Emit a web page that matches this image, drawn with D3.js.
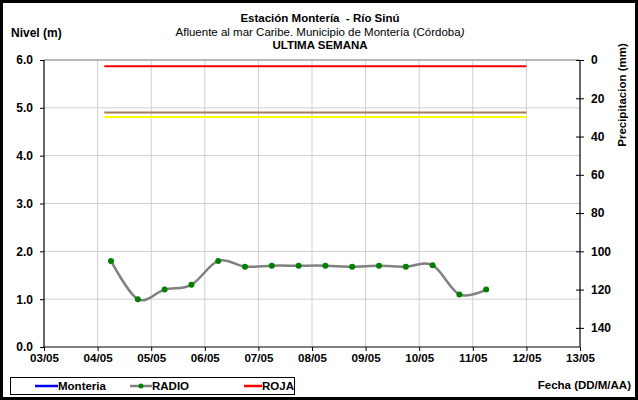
<!DOCTYPE html>
<html><head><meta charset="utf-8">
<script src="https://cdn.jsdelivr.net/npm/d3@7"></script>
<style>body{margin:0;background:#fff}svg{display:block;font-family:"Liberation Sans",Arial,sans-serif}</style>
</head><body><svg id="c" width="638" height="400"></svg>
<script>
// ---- data ----
const dayTicks = [3,4,5,6,7,8,9,10,11,12,13];
const tickLabels = ["03/05","04/05","05/05","06/05","07/05","08/05","09/05","10/05","11/05","12/05","13/05"];
const radioTimes = [4.25,4.75,5.25,5.75,6.25,6.75,7.25,7.75,8.25,8.75,9.25,9.75,10.25,10.75,11.25];
const radioLevels = [1.80,1.00,1.20,1.30,1.80,1.68,1.70,1.70,1.70,1.68,1.70,1.68,1.71,1.10,1.20];
const refStart = 4.125, refEnd = 12.0;
const rojaLevel = 5.87;
const brownLevel = 4.90;
const yellowLevel = 4.81;
const levelTicks = [0,1,2,3,4,5,6];
const precipTicks = [0,20,40,60,80,100,120,140];

const svg = d3.select("#c");
const L=44,R=580,T=60,B=347;
const x = d3.scaleLinear().domain([3,13]).range([L,R]);
const y = d3.scaleLinear().domain([0,6]).range([B,T]);
const yp = d3.scaleLinear().domain([0,150]).range([T,B]);

// outer frame
svg.append("rect").attr("x",1.5).attr("y",1.5).attr("width",635).attr("height",397)
  .attr("fill","#fff").attr("stroke","#000").attr("stroke-width",3);

// grid
const g = svg.append("g");
g.selectAll(".vg").data(dayTicks.slice(1,-1)).join("line")
  .attr("x1",d=>x(d)).attr("x2",d=>x(d)).attr("y1",T).attr("y2",B)
  .attr("stroke","#cfcfcf").attr("stroke-width",1);
g.selectAll(".hg").data(levelTicks.slice(1,-1)).join("line")
  .attr("x1",L).attr("x2",R).attr("y1",d=>y(d)).attr("y2",d=>y(d))
  .attr("stroke","#cfcfcf").attr("stroke-width",1);
g.append("line").attr("x1",L).attr("x2",R).attr("y1",T).attr("y2",T).attr("stroke","#a0a0a0").attr("stroke-width",1.5);

// reference lines
const refs = [[rojaLevel,"#ff0000"],[brownLevel,"#a67c5b"],[yellowLevel,"#ffff00"]];
g.selectAll(".ref").data(refs).join("line")
  .attr("x1",x(refStart)).attr("x2",x(refEnd)).attr("y1",d=>y(d[0])).attr("y2",d=>y(d[0]))
  .attr("stroke",d=>d[1]).attr("stroke-width",2);

// radio series
const pts = radioTimes.map((t,i)=>[t,radioLevels[i]]);
g.append("path").datum(pts)
  .attr("d",d3.line().x(d=>x(d[0])).y(d=>y(d[1])).curve(d3.curveCatmullRom.alpha(0)))
  .attr("fill","none").attr("stroke","#808080").attr("stroke-width",2.5);
g.selectAll(".pt").data(pts).join("circle")
  .attr("cx",d=>x(d[0])).attr("cy",d=>y(d[1])).attr("r",3).attr("fill","#008000");

// axes
const fnt = (sel,s)=>sel.attr("font-size",s).attr("font-weight","bold").attr("font-family","'Liberation Sans',Arial,sans-serif");
const la = svg.append("g").attr("transform",`translate(${L},0)`)
  .call(d3.axisLeft(y).tickValues(levelTicks).tickFormat(d3.format(".1f")).tickSize(4).tickPadding(7));
const ba = svg.append("g").attr("transform",`translate(0,${B})`)
  .call(d3.axisBottom(x).tickValues(dayTicks).tickFormat((d,i)=>tickLabels[i]).tickSize(4).tickPadding(3));
const ra = svg.append("g").attr("transform",`translate(${R},0)`)
  .call(d3.axisRight(yp).tickValues(precipTicks).tickSize(4).tickPadding(7));
ra.selectAll(".tick line").attr("x1",-4);
[la,ba,ra].forEach(a=>{
  a.select(".domain").attr("stroke","#000").attr("stroke-width",1.2);
  a.selectAll(".tick line").attr("stroke","#000");
  a.selectAll("text").call(fnt, a===ba?11.6:12).attr("fill","#000");
  a.attr("font-family",null);
});
ba.select(".domain").attr("d",`M${L},0H${R}`);
la.select(".domain").attr("d",`M0,${T}V${B}`);
ra.select(".domain").attr("d",`M0,${T}V${B}`);

// titles
const tx = (xx,yy,s,bold,anchor,fs)=>svg.append("text").attr("x",xx).attr("y",yy).text(s)
  .attr("font-size",fs||11.5).attr("font-weight",bold?"bold":"normal").attr("text-anchor",anchor||"middle");
tx(320,22,"Estación Montería  - Río Sinú",true).style("white-space","pre");
const sub = svg.append("text").attr("x",320).attr("y",36).attr("font-size",11.5).attr("text-anchor","middle");
sub.append("tspan").text("Afluente al mar Caribe. Municipio de Montería (Córdoba");
sub.append("tspan").attr("font-style","italic").text(")");
tx(320,49,"ULTIMA SEMANA",true);
tx(11,37,"Nivel (m)",true,"start",12);
svg.append("text").attr("transform","translate(626,95) rotate(-90)").attr("text-anchor","middle")
  .attr("font-size",11.5).attr("font-weight","bold").text("Precipitacion (mm)");
tx(631,389,"Fecha (DD/M/AA)",true,"end",11.5);

// legend
const lg = svg.append("g");
lg.append("rect").attr("x",10.5).attr("y",377.5).attr("width",284).attr("height",17).attr("fill","#fff").attr("stroke","#000");
const items = [["Monteria","#0000ff",false,35,58],["RADIO","#808080",true,130,152],["ROJA","#ff0000",false,244,262]];
items.forEach(([name,col,mk,x1,x2])=>{
  lg.append("line").attr("x1",x1).attr("x2",x2).attr("y1",386).attr("y2",386).attr("stroke",col).attr("stroke-width",2.5);
  if(mk) lg.append("circle").attr("cx",(x1+x2)/2).attr("cy",386).attr("r",2.5).attr("fill","#008000");
  lg.append("text").attr("x",x2).attr("y",390).attr("font-size",11.5).attr("font-weight","bold").text(name);
});
</script></body></html>
